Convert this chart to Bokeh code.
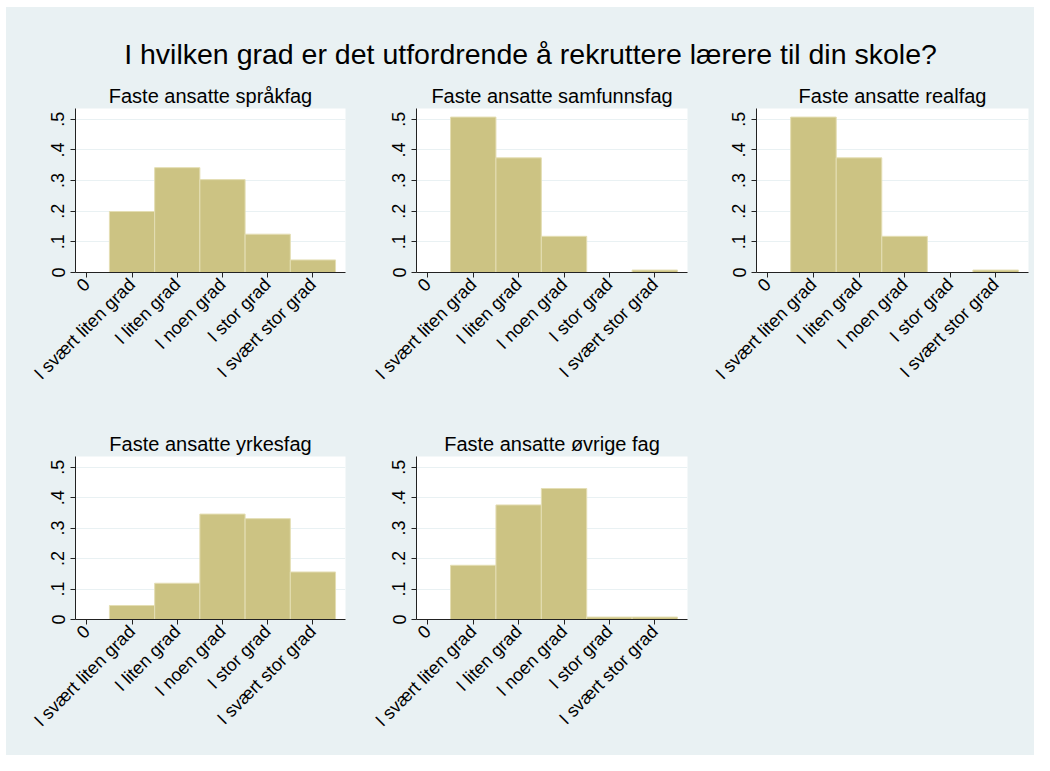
from math import pi
from bokeh.plotting import figure
from bokeh.layouts import column, row
from bokeh.models import FixedTicker, Range1d, ColumnDataSource, Spacer
from bokeh.embed import file_html
from bokeh.resources import INLINE
from bokeh.core.properties import value

# ---------------- data ----------------
main_title = "I hvilken grad er det utfordrende å rekruttere lærere til din skole?"
categories = ["I svært liten grad", "I liten grad", "I noen grad", "I stor grad", "I svært stor grad"]
x_positions = [1, 2, 3, 4, 5]
x_ticks = [0, 1, 2, 3, 4, 5]
x_tick_labels = ["0"] + categories
y_ticks = [0, 0.1, 0.2, 0.3, 0.4, 0.5]
y_tick_labels = ["0", ".1", ".2", ".3", ".4", ".5"]

panel_titles = ["Faste ansatte språkfag", "Faste ansatte samfunnsfag", "Faste ansatte realfag",
                "Faste ansatte yrkesfag", "Faste ansatte øvrige fag"]
sprakfag = [0.199, 0.342, 0.303, 0.125, 0.041]
samfunnsfag = [0.507, 0.374, 0.118, 0.0, 0.008]
realfag = [0.507, 0.374, 0.118, 0.0, 0.008]
yrkesfag = [0.046, 0.119, 0.346, 0.331, 0.156]
ovrige = [0.178, 0.376, 0.430, 0.008, 0.008]

# ---------------- style ----------------
BG = "#E9F1F3"
BAR_FILL = "#CCC383"
BAR_LINE = "#E4DEB4"
FONT = "Liberation Sans"


def make_panel(title, vals, left, frame_w, right, top, frame_h, bottom):
    p = figure(frame_width=frame_w, frame_height=frame_h,
               min_border_left=left, min_border_right=right,
               min_border_top=top, min_border_bottom=bottom,
               x_range=Range1d(-0.25, 5.72), y_range=Range1d(0, 0.535),
               output_backend="svg", toolbar_location=None, title=title)
    p.background_fill_color = "white"
    p.border_fill_color = BG
    p.outline_line_color = None
    p.title.align = "center"
    p.title.text_font = FONT
    p.title.text_font_size = "20px"
    p.title.text_font_style = "normal"
    p.title.text_color = "black"
    p.title.standoff = 3
    src = ColumnDataSource(dict(x=x_positions, top=vals))
    p.vbar(x="x", top="top", bottom=0, width=1, source=src,
           fill_color=BAR_FILL, line_color=BAR_LINE, line_width=1)
    p.xgrid.visible = False
    p.ygrid.grid_line_color = BG
    p.ygrid.grid_line_width = 1
    p.ygrid.ticker = FixedTicker(ticks=y_ticks)
    # y axis
    p.yaxis.ticker = FixedTicker(ticks=y_ticks)
    p.yaxis.major_label_overrides = dict(zip(y_ticks, y_tick_labels))
    p.yaxis.major_label_orientation = "vertical"
    # x axis
    p.xaxis.ticker = FixedTicker(ticks=x_ticks)
    p.xaxis.major_label_overrides = dict(zip(x_ticks, x_tick_labels))
    p.xaxis.major_label_orientation = pi / 4
    for ax in (p.xaxis[0], p.yaxis[0]):
        ax.axis_line_color = "#222222"
        ax.axis_line_width = 1
        ax.major_tick_line_color = "#222222"
        ax.major_tick_out = 5
        ax.major_tick_in = 0
        ax.minor_tick_line_color = None
        ax.major_label_text_font = FONT
        ax.major_label_text_color = "black"
    p.xaxis.major_label_standoff = 4
    p.yaxis.major_label_standoff = 6
    p.xaxis.major_label_text_font_size = "18px"
    p.yaxis.major_label_text_font_size = "18px"
    return p


BG_STYLE = {"background-color": BG}

# title strip
W = 1028
TH = 73
pt = figure(frame_width=W, frame_height=TH, min_border=0,
            x_range=Range1d(0, W), y_range=Range1d(0, TH),
            output_backend="svg", toolbar_location=None)
pt.axis.visible = False
pt.grid.visible = False
pt.outline_line_color = None
pt.background_fill_color = BG
pt.border_fill_color = BG
pt.text(x=[W / 2 + 10], y=[27], text=[main_title],
        text_font=value(FONT), text_font_size="28.5px", text_color="black",
        text_align="center", text_baseline="alphabetic")

p1 = make_panel(panel_titles[0], sprakfag, 69, 270, 4, 28, 164, 156)
p2 = make_panel(panel_titles[1], samfunnsfag, 67, 271, 3, 28, 164, 156)
p3 = make_panel(panel_titles[2], realfag, 66, 272, 6, 28, 164, 156)
p4 = make_panel(panel_titles[3], yrkesfag, 69, 270, 4, 28, 163, 136)
p5 = make_panel(panel_titles[4], ovrige, 67, 271, 3, 28, 163, 136)
blank = Spacer(width=344, height=327, styles=BG_STYLE)

inner = column(pt,
               row(p1, p2, p3, styles=BG_STYLE),
               row(p4, p5, blank, styles=BG_STYLE),
               styles=BG_STYLE)
layout = column(Spacer(width=1034, height=7),
                row(Spacer(width=6, height=748), inner))

open("out.html", "w").write(file_html(layout, INLINE))
